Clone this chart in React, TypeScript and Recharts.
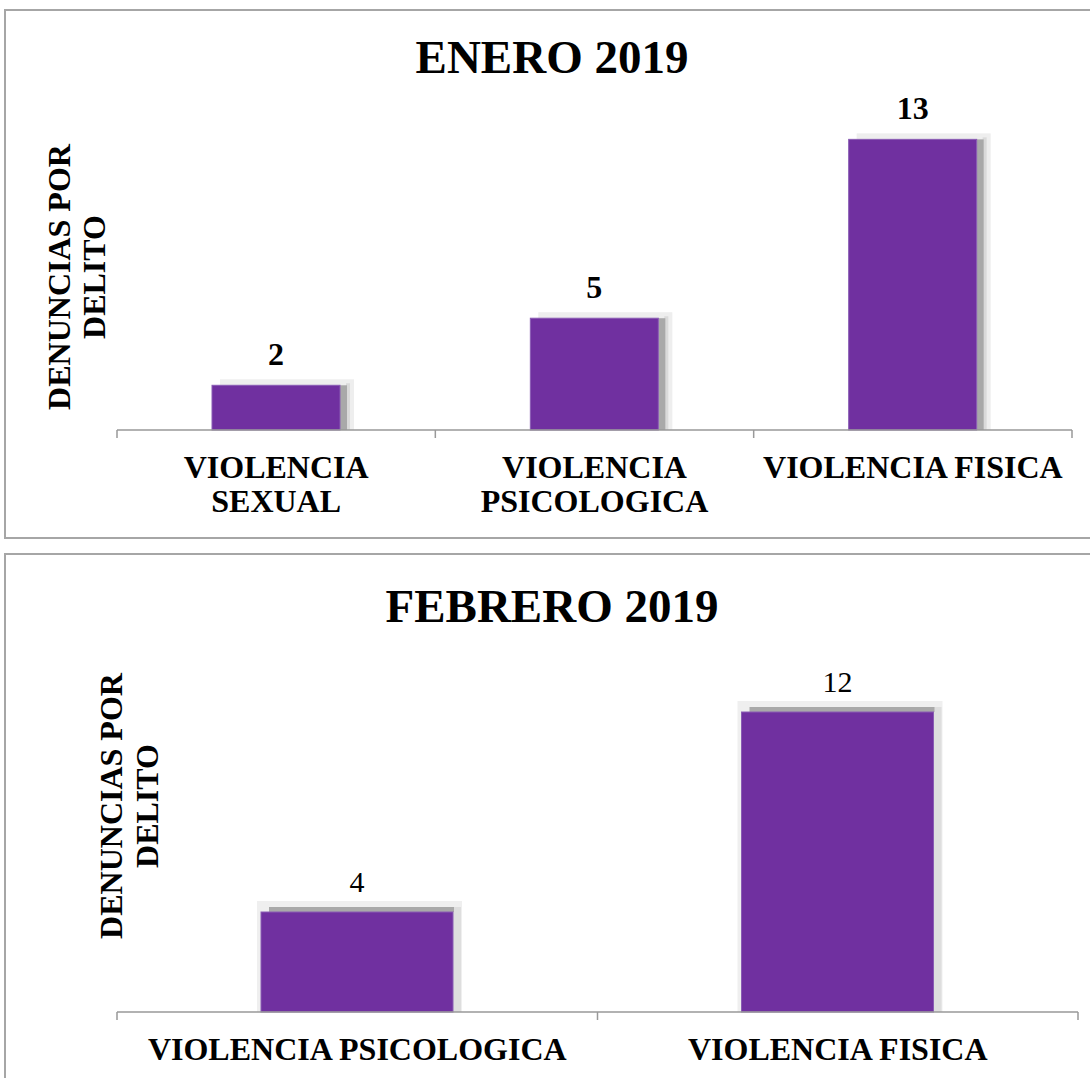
import React from "react";
import { BarChart, Bar, XAxis, YAxis, LabelList } from "recharts";

const FONT = '"Liberation Serif", "Times New Roman", serif';

const eneroTitle = "ENERO 2019";
const eneroCategories = ["VIOLENCIA SEXUAL", "VIOLENCIA PSICOLOGICA", "VIOLENCIA FISICA"];
const eneroTickLines = [["VIOLENCIA", "SEXUAL"], ["VIOLENCIA", "PSICOLOGICA"], ["VIOLENCIA FISICA"]];
const eneroValues = [2, 5, 13];

const febreroTitle = "FEBRERO 2019";
const febreroCategories = ["VIOLENCIA PSICOLOGICA", "VIOLENCIA FISICA"];
const febreroTickLines = [["VIOLENCIA PSICOLOGICA"], ["VIOLENCIA FISICA"]];
const febreroValues = [4, 12];

const yAxisLabelLines = ["DENUNCIAS POR", "DELITO"];
const yDomainMax = 14;

const BAR_COLOR = "#7030a0";

function buildData(cats: string[], vals: number[]) {
  return cats.map((c, i) => ({ name: c, value: vals[i], idx: i + 0.5 }));
}

function buildTicks(n: number) {
  const t: number[] = [];
  for (let i = 0; i <= n * 2; i++) t.push(i / 2);
  return t;
}

const makeTick = (lines: string[][]) => (props: any) => {
  const { x, y, payload } = props;
  const v = payload.value as number;
  if (Number.isInteger(v)) {
    return <line x1={x} x2={x} y1={y} y2={y + 8} stroke="#999" strokeWidth={1.5} />;
  }
  const ls = lines[Math.floor(v)] || [];
  return (
    <g>
      {ls.map((l, i) => (
        <text
          key={i}
          x={x}
          y={y + 48 + i * 34}
          textAnchor="middle"
          fontFamily={FONT}
          fontWeight="bold"
          fontSize={32}
          fill="#000"
        >
          {l}
        </text>
      ))}
    </g>
  );
};

const TopShape = (props: any) => {
  const { x, y, width, height } = props;
  return (
    <g>
      <rect x={x + 8} y={y - 6} width={width + 6} height={height + 6} fill="#eeeeee" />
      <rect x={x + width + 6} y={y - 2} width={4} height={height + 2} fill="#dadada" />
      <rect x={x + width} y={y} width={7} height={height} fill="#a9a9a9" />
      <rect x={x} y={y} width={width} height={height} fill={BAR_COLOR} stroke="#8a5cb4" strokeWidth={1} />
    </g>
  );
};

const BottomShape = (props: any) => {
  const { x, y, width, height } = props;
  return (
    <g>
      <rect x={x - 4} y={y - 11} width={width + 13} height={height + 11} fill="#efefef" />
      <rect x={x + width} y={y - 5} width={8} height={height + 5} fill="#dedede" />
      <rect x={x + 8} y={y - 5} width={width - 7} height={5} fill="#a9a9a9" />
      <rect x={x} y={y} width={width} height={height} fill={BAR_COLOR} stroke="#8a5cb4" strokeWidth={1} />
    </g>
  );
};

function Overlay(props: {
  title: string;
  titleY: number;
  yl1: number;
  yl2: number;
  ylCenter: number;
  width: number;
  height: number;
}) {
  const { title, titleY, yl1, yl2, ylCenter, width, height } = props;
  return (
    <svg
      width={width}
      height={height}
      style={{ position: "absolute", left: 0, top: 0, pointerEvents: "none" }}
    >
      <text
        x={552}
        y={titleY}
        textAnchor="middle"
        fontFamily={FONT}
        fontWeight="bold"
        fontSize={47}
        fill="#000"
      >
        {title}
      </text>
      {[yl1, yl2].map((bx, i) => (
        <text
          key={i}
          transform={`translate(${bx}, ${ylCenter}) rotate(-90)`}
          textAnchor="middle"
          fontFamily={FONT}
          fontWeight="bold"
          fontSize={32}
          fill="#000"
        >
          {yAxisLabelLines[i]}
        </text>
      ))}
    </svg>
  );
}

export default function App() {
  const eneroData = buildData(eneroCategories, eneroValues);
  const febreroData = buildData(febreroCategories, febreroValues);
  return (
    <div
      style={{
        position: "absolute",
        left: 0,
        top: 0,
        width: 1090,
        height: 1078,
        overflow: "hidden",
        background: "#fff",
        fontFamily: FONT,
      }}
    >
      <div
        style={{
          position: "absolute",
          left: 4,
          top: 9,
          width: 1110,
          height: 530,
          border: "2px solid #a6a6a6",
          boxSizing: "border-box",
        }}
      />
      <div
        style={{
          position: "absolute",
          left: 4,
          top: 553,
          width: 1110,
          height: 600,
          border: "2px solid #a6a6a6",
          boxSizing: "border-box",
        }}
      />

      <div style={{ position: "absolute", left: 0, top: 0, width: 1090, height: 540 }}>
        <BarChart
          width={1090}
          height={540}
          data={eneroData}
          margin={{ top: 117, right: 18, bottom: 10, left: 117 }}
          barSize={128}
        >
          <XAxis xAxisId="cat" dataKey="name" hide height={0} />
          <XAxis
            xAxisId="grid"
            dataKey="idx"
            type="number"
            domain={[0, eneroCategories.length]}
            ticks={buildTicks(eneroCategories.length)}
            interval={0}
            height={100}
            tickSize={0}
            tickMargin={0}
            tickLine={false}
            axisLine={{ stroke: "#999", strokeWidth: 1.5 }}
            tick={makeTick(eneroTickLines)}
          />
          <YAxis hide domain={[0, yDomainMax]} />
          <Bar xAxisId="cat" dataKey="value" isAnimationActive={false} shape={TopShape}>
            <LabelList
              dataKey="value"
              position="top"
              offset={20}
              fill="#000"
              style={{ fontFamily: FONT, fontWeight: "bold", fontSize: 32, fill: "#000" }}
            />
          </Bar>
        </BarChart>
        <Overlay title={eneroTitle} titleY={73} yl1={70} yl2={105} ylCenter={277} width={1090} height={540} />
      </div>

      <div style={{ position: "absolute", left: 0, top: 545, width: 1090, height: 533 }}>
        <BarChart
          width={1090}
          height={533}
          data={febreroData}
          margin={{ top: 117, right: 12, bottom: 6, left: 117 }}
          barSize={192}
        >
          <XAxis xAxisId="cat" dataKey="name" hide height={0} />
          <XAxis
            xAxisId="grid"
            dataKey="idx"
            type="number"
            domain={[0, febreroCategories.length]}
            ticks={buildTicks(febreroCategories.length)}
            interval={0}
            height={60}
            tickSize={0}
            tickMargin={0}
            tickLine={false}
            axisLine={{ stroke: "#999", strokeWidth: 1.5 }}
            tick={makeTick(febreroTickLines)}
          />
          <YAxis hide domain={[0, yDomainMax]} />
          <Bar xAxisId="cat" dataKey="value" isAnimationActive={false} shape={BottomShape}>
            <LabelList
              dataKey="value"
              position="top"
              offset={20}
              fill="#000"
              style={{ fontFamily: FONT, fontWeight: "normal", fontSize: 30, fill: "#000" }}
            />
          </Bar>
        </BarChart>
        <Overlay title={febreroTitle} titleY={77} yl1={122} yl2={158} ylCenter={261} width={1090} height={533} />
      </div>
    </div>
  );
}
